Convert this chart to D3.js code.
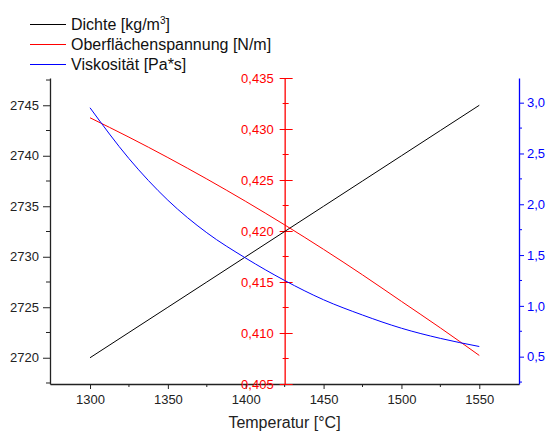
<!DOCTYPE html>
<html>
<head>
<meta charset="utf-8">
<script src="https://cdn.jsdelivr.net/npm/d3@7"></script>
<style>
  body { margin: 0; background: #fff; }
  svg { font-family: "Liberation Sans", Arial, sans-serif; }
</style>
</head>
<body>
<div id="chart"></div>
<script>
// values
const temps = [1300, 1325, 1350, 1375, 1400, 1425, 1450, 1475, 1500, 1525, 1550];
const dichte = [2720.0, 2722.5, 2725.0, 2727.5, 2730.0, 2732.5, 2735.0, 2737.5, 2740.0, 2742.5, 2745.0];
const spannung = [0.4311, 0.4292, 0.4272, 0.4251, 0.4229, 0.4206, 0.4182, 0.4157, 0.4131, 0.4105, 0.4078];
const viskositaet = [2.95, 2.45, 2.04, 1.72, 1.47, 1.25, 1.06, 0.91, 0.78, 0.68, 0.60];

const xTicks = [1300, 1350, 1400, 1450, 1500, 1550];
const dichteTicks = [2720, 2725, 2730, 2735, 2740, 2745];
const spannungTicks = [0.405, 0.41, 0.415, 0.42, 0.425, 0.43, 0.435];
const viskTicks = [0.5, 1.0, 1.5, 2.0, 2.5, 3.0];

const W = 551, H = 433;
const mLeft = 50, mRight = 519, mTop = 78, mBottom = 384;

const de = d3.formatLocale({ decimal: ",", thousands: ".", grouping: [3], currency: ["", "€"] });
const f3 = de.format(".3f"), f1 = de.format(".1f");

const x = d3.scaleLinear().domain([1274.3, 1575.5]).range([mLeft, mRight]);
const yD = d3.scaleLinear().domain([2717.4, 2747.7]).range([mBottom, mTop]);
const yS = d3.scaleLinear().domain([0.405, 0.435]).range([mBottom, mTop]);
const yV = d3.scaleLinear().domain([0.231, 3.243]).range([mBottom, mTop]);

const svg = d3.select('#chart').append('svg').attr('width', W).attr('height', H);

// minor ticks helper
function minor(g, scale, values, len, orient, color) {
  g.selectAll('line.minor').data(values).enter().append('line')
    .attr('class', 'minor')
    .attr('stroke', color).attr('stroke-width', 1)
    .each(function (d) {
      const s = d3.select(this);
      if (orient === 'bottom') s.attr('x1', scale(d)).attr('x2', scale(d)).attr('y1', 0).attr('y2', len);
      else if (orient === 'left') s.attr('y1', scale(d)).attr('y2', scale(d)).attr('x1', 0).attr('x2', -len);
      else s.attr('y1', scale(d)).attr('y2', scale(d)).attr('x1', 0).attr('x2', len);
    });
}

function style(g, color, size) {
  g.select('.domain').attr('stroke', color).attr('stroke-width', 1.3);
  g.selectAll('.tick line').attr('stroke', color).attr('stroke-width', 1);
  g.selectAll('.tick text').attr('fill', color).attr('font-size', size)
    .attr('font-family', '"Liberation Sans", Arial, sans-serif');
}

// x axis
const gx = svg.append('g').attr('transform', `translate(0,${mBottom})`)
  .call(d3.axisBottom(x).tickValues(xTicks).tickSize(5).tickSizeOuter(0).tickPadding(6).tickFormat(d3.format('d')));
style(gx, '#222', 13);
minor(gx, x, [1325, 1375, 1425, 1475, 1525], 3, 'bottom', '#222');

// left axis (Dichte)
const gl = svg.append('g').attr('transform', `translate(${mLeft},0)`)
  .call(d3.axisLeft(yD).tickValues(dichteTicks).tickSize(7).tickSizeOuter(0).tickPadding(4).tickFormat(d3.format('d')));
style(gl, '#222', 13);
minor(gl, yD, [2717.5, 2722.5, 2727.5, 2732.5, 2737.5, 2742.5, 2747.5], 4, 'left', '#222');

// right axis (Viskosität)
const gr = svg.append('g').attr('transform', `translate(${mRight},0)`)
  .call(d3.axisRight(yV).tickValues(viskTicks).tickSize(5).tickSizeOuter(0).tickPadding(3).tickFormat(f1));
style(gr, '#00f', 13);
minor(gr, yV, [0.25, 0.75, 1.25, 1.75, 2.25, 2.75, 3.25].filter(v => v >= 0.231 && v <= 3.243), 3, 'right', '#00f');

// middle red axis (Oberflächenspannung) at 1425
const xm = x(1425);
const gm = svg.append('g').attr('transform', `translate(${xm},0)`)
  .call(d3.axisLeft(yS).tickValues(spannungTicks).tickSize(0).tickSizeOuter(0).tickPadding(11).tickFormat(f3));
style(gm, '#f00', 13);
gm.selectAll('.tick').append('line').attr('x1', -5).attr('x2', 8).attr('stroke', '#f00');
gm.selectAll('line.mn').data([0.4075, 0.4125, 0.4175, 0.4225, 0.4275, 0.4325]).enter().append('line')
  .attr('class', 'mn').attr('stroke', '#f00')
  .attr('x1', -2).attr('x2', 4).attr('y1', d => yS(d)).attr('y2', d => yS(d));

// data lines
const pts = (arr) => temps.map((t, i) => [t, arr[i]]);
svg.append('path').datum(pts(dichte)).attr('fill', 'none').attr('stroke', '#000').attr('stroke-width', 1)
  .attr('d', d3.line().x(d => x(d[0])).y(d => yD(d[1])));
svg.append('path').datum(pts(spannung)).attr('fill', 'none').attr('stroke', '#f00').attr('stroke-width', 1)
  .attr('d', d3.line().curve(d3.curveMonotoneX).x(d => x(d[0])).y(d => yS(d[1])));
svg.append('path').datum(pts(viskositaet)).attr('fill', 'none').attr('stroke', '#00f').attr('stroke-width', 1)
  .attr('d', d3.line().curve(d3.curveMonotoneX).x(d => x(d[0])).y(d => yV(d[1])));

// axis title
svg.append('text').attr('x', (mLeft + mRight) / 2).attr('y', 428).attr('text-anchor', 'middle')
  .attr('font-size', 16).attr('fill', '#222').text('Temperatur [°C]');

// legend
const legend = [
  { label: 'Dichte [kg/m', sup: '3', tail: ']', color: '#000' },
  { label: 'Oberflächenspannung [N/m]', color: '#f00' },
  { label: 'Viskosität [Pa*s]', color: '#00f' }
];
const lg = svg.append('g');
legend.forEach((d, i) => {
  const y = 24.5 + i * 20;
  lg.append('line').attr('x1', 30).attr('x2', 66).attr('y1', y).attr('y2', y)
    .attr('stroke', d.color).attr('stroke-width', 1);
  const t = lg.append('text').attr('x', 71).attr('y', y + 5.5).attr('font-size', 16).attr('fill', '#111');
  t.append('tspan').text(d.label);
  if (d.sup) {
    t.append('tspan').attr('font-size', 10).attr('dy', -6).text(d.sup);
    t.append('tspan').attr('dy', 6).text(d.tail);
  }
});
</script>
</body>
</html>
